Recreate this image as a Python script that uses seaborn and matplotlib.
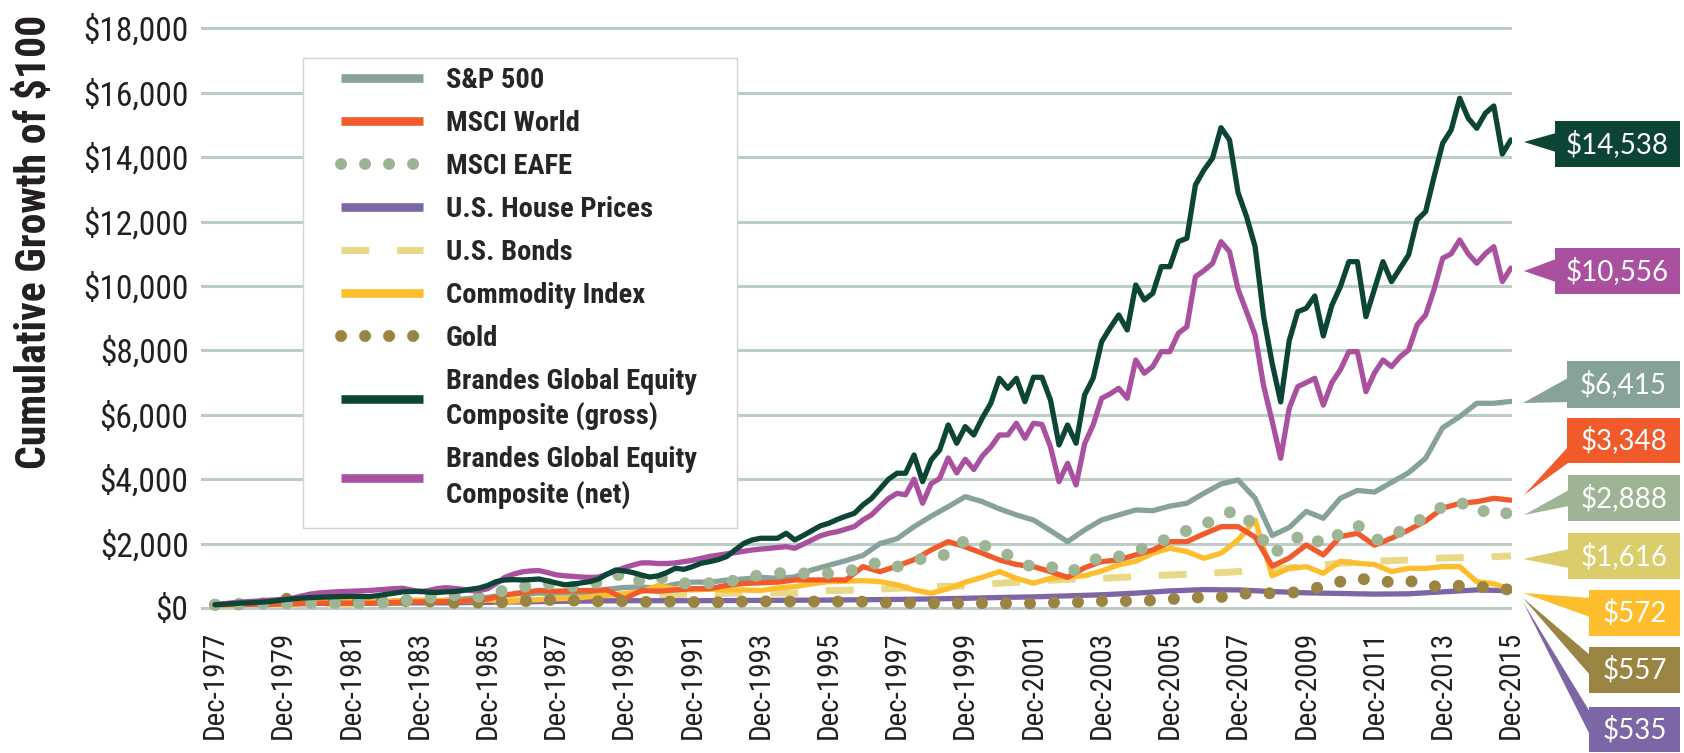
import numpy as np
import matplotlib
matplotlib.use("Agg")
import matplotlib.pyplot as plt
from matplotlib import font_manager as fm
from matplotlib.lines import Line2D
from matplotlib.patches import Rectangle, Polygon
import seaborn as sns

# values (growth of $100, start Dec-1977)
start = 1977 + 11 / 12

# quarterly: Dec-77, then Mar/Jun/Sep/Dec of each year
gross = [100,
         115, 130, 150, 160,  175, 190, 220, 250,  280, 300, 320, 330,
         340, 350, 355, 360,  360, 350, 380, 420,  460, 500, 510, 520,
         490, 480, 500, 510,  540, 580, 620, 700,  820, 870, 880, 870,
         880, 900, 840, 780,  720, 740, 780, 820,  900, 1050, 1180, 1150,
         1100, 1025, 960, 1000,  1100, 1233, 1200, 1283,  1388, 1438, 1500, 1594,
         1800, 2000, 2112, 2165,  2165, 2165, 2320, 2112,  2250, 2400, 2550, 2631,
         2750, 2850, 2941, 3200,  3400, 3700, 4000, 4184,  4184, 4752, 3923, 4597,
         4907, 5684, 5115, 5632,  5373, 5900, 6358, 7134,  6823, 7134, 6408, 7165,
         7165, 6460, 5063, 5684,  5115, 6616, 7134, 8271,  8700, 9100, 8635, 10032,
         9566, 9774, 10601, 10601,  11377, 11483, 13138, 13604,  13966, 14918, 14536, 12900,
         12154, 11222, 9048, 7600,  6400, 8300, 9203, 9308,  9690, 8448, 9400, 9980,
         10756, 10756, 9048, 9900,  10756, 10135, 10550, 10964,  12051, 12310, 13400, 14434,
         14847, 15831, 15210, 14899,  15365, 15592, 14101, 14538]

net = [100,
       130, 160, 180, 200,  215, 235, 250, 270,  300, 360, 420, 460,
       480, 500, 510, 520,  530, 540, 560, 580,  600, 612, 560, 500,
       540, 600, 630, 610,  580, 540, 540, 600,  760, 950, 1050, 1120,
       1150, 1160, 1100, 1030,  1000, 980, 960, 950,  960, 1050, 1150, 1250,
       1330, 1400, 1400, 1380,  1380, 1400, 1440, 1480,  1540, 1600, 1640, 1680,
       1720, 1760, 1800, 1830,  1850, 1880, 1905, 1853,  1980, 2110, 2240, 2320,
       2370, 2450, 2530, 2733,  2890, 3150, 3400, 3560,  3515, 4000, 3252, 3860,
       4024, 4660, 4194, 4620,  4300, 4720, 5000, 5373,  5373, 5737, 5271, 5737,
       5700, 5000, 3923, 4494,  3820, 5100, 5684, 6513,  6650, 6823, 6513, 7703,
       7290, 7500, 7961, 7961,  8532, 8737, 10290, 10477,  10700, 11377, 11067, 9900,
       9200, 8480, 6900, 5800,  4650, 6200, 6874, 7000,  7134, 6300, 7000, 7400,
       7961, 7961, 6718, 7300,  7703, 7495, 7800, 8013,  8790, 9100, 9900, 10862,
       11000, 11430, 11000, 10706,  11000, 11222, 10135, 10556]

# half-yearly: Dec-77, then Jun/Dec of each year
sp500 = [100,
         110, 107, 120, 127, 145, 167, 160, 159, 155, 193, 235, 236, 225, 251,
         300, 332, 410, 394, 470, 414, 470, 484, 580, 636, 650, 616, 740, 803,
         800, 865, 900, 952, 920, 964, 1180, 1326, 1470, 1631, 2000, 2150,
         2525, 2850, 3146, 3457, 3302, 3078, 2889, 2733, 2400, 2060, 2423, 2733,
         2889, 3044, 3022, 3163, 3252, 3563, 3850, 3976, 3407, 2250, 2500, 3000,
         2786, 3407, 3650, 3600, 3900, 4200, 4650, 5600, 5942, 6358, 6358, 6415]

msci_world = [100,
              110, 115, 120, 125, 135, 150, 150, 150, 145, 160, 180, 190, 190, 200,
              230, 280, 400, 480, 540, 520, 540, 540, 560, 280, 540, 520, 560, 600,
              600, 700, 760, 780, 800, 870, 870, 870, 870, 1283, 1128, 1300,
              1500, 1801, 2060, 1900, 1700, 1491, 1350, 1283, 1128, 950, 1250, 1440,
              1491, 1650, 1800, 2060, 2060, 2300, 2525, 2525, 2200, 1300, 1550, 1957,
              1646, 2215, 2320, 1950, 2165, 2423, 2700, 3100, 3250, 3300, 3407, 3348]

msci_eafe = [100,
             120, 134, 135, 142, 150, 150, 150, 150, 150, 160, 230, 270, 351, 404,
             332, 373, 559, 650, 714, 767, 662, 760, 817, 1128, 817, 972, 767, 767,
             770, 800, 922, 1025, 1077, 1100, 1050, 1077, 1128, 1250, 1438, 1283,
             1438, 1646, 1646, 2112, 1950, 1801, 1491, 1250, 1283, 1077, 1336, 1600,
             1594, 1801, 1905, 2215, 2400, 2578, 2889, 3044, 2525, 1650, 2060, 2320,
             1957, 2320, 2578, 2112, 2165, 2600, 2800, 3150, 3302, 2950, 3096, 2888]

commodity = [100,
             110, 125, 150, 170, 250, 300, 250, 220, 200, 210, 230, 240, 230, 220,
             220, 250, 200, 230, 260, 280, 300, 350, 400, 450, 500, 700, 580, 559,
             580, 560, 560, 540, 620, 662, 750, 817, 830, 850, 817, 720,
             560, 456, 600, 800, 950, 1128, 922, 767, 922, 972, 1000, 1150,
             1336, 1450, 1700, 1854, 1749, 1543, 1700, 2112, 2733, 1000, 1233, 1283,
             1077, 1450, 1388, 1350, 1128, 1233, 1230, 1283, 1283, 817, 750, 572]

gold = [100,
        105, 118, 145, 270, 340, 310, 230, 210, 165, 235, 220, 200, 200, 160,
        165, 170, 180, 205, 235, 255, 230, 215, 195, 210, 185, 200, 195, 185,
        180, 175, 200, 205, 200, 200, 200, 200, 200, 195, 175, 150,
        155, 150, 135, 150, 150, 140, 140, 145, 165, 180, 180, 215,
        205, 230, 230, 270, 320, 330, 340, 435, 456, 456, 456, 560,
        662, 817, 922, 850, 800, 850, 700, 650, 690, 650, 640, 557]

# yearly: Dec-77 ... Dec-15
house = [100, 115, 130, 140, 150, 155, 160, 165, 175, 190, 205, 215, 225, 225,
         225, 230, 235, 240, 245, 255, 265, 280, 300, 325, 345, 375, 410, 460,
         530, 570, 560, 510, 470, 450, 430, 440, 500, 560, 535]

bonds = [100, 103, 106, 110, 117, 155, 168, 193, 236, 272, 279, 300, 343, 373,
         433, 456, 466, 456, 540, 560, 612, 662, 680, 767, 830, 891, 922, 970,
         1025, 1070, 1128, 1202, 1290, 1388, 1450, 1491, 1553, 1570, 1616]

legend_names = ["S&P 500", "MSCI World", "MSCI EAFE", "U.S. House Prices",
                "U.S. Bonds", "Commodity Index", "Gold",
                "Brandes Global Equity\nComposite (gross)",
                "Brandes Global Equity\nComposite (net)"]
end_labels = ["$14,538", "$10,556", "$6,415", "$3,348", "$2,888",
              "$1,616", "$572", "$557", "$535"]

c_sp = "#86A29B"
c_world = "#F15A2B"
c_eafe = "#9DB594"
c_house = "#7D66A5"
c_bond = "#E7D988"
c_bond_box = "#DBCC6C"
c_comm = "#FDBD2D"
c_gold = "#9A8444"
c_gross = "#0C4536"
c_net = "#A9519F"

q_x = start + 0.25 * np.arange(len(gross))
h_x = start + 0.5 * np.arange(len(sp500))
a_x = start + np.arange(len(house))

# look for a condensed sans face, the reference uses a narrow type
fonts = fm.fontManager.ttflist
names = {f.name for f in fonts}
narrow_family, narrow_stretch = "Roboto", "normal"
for nm in ["Roboto Condensed", "Liberation Sans Narrow", "Noto Sans Condensed",
           "DejaVu Sans Condensed", "Open Sans Condensed"]:
    if nm in names:
        narrow_family = nm
        break
else:
    for nm in ["Noto Sans", "DejaVu Sans", "Open Sans", "Roboto"]:
        if any(f.name == nm and f.stretch in ("condensed", "semi-condensed")
               for f in fonts):
            narrow_family, narrow_stretch = nm, "condensed"
            break

W, H = 1684, 753
sns.set_theme(style="white")
plt.rcParams["font.family"] = [narrow_family, "DejaVu Sans"]
plt.rcParams["font.stretch"] = narrow_stretch
fig = plt.figure(figsize=(W / 100, H / 100), dpi=100)

# axes box in pixels: x 201..1512, y 22..614
ax = fig.add_axes([201 / W, 1 - 614.4 / H, (1512 - 201) / W, (614.4 - 22) / H])
ax.set_xlim(1977.506, 2015.95)
ax.set_ylim(-200, 18200)

dot = (0, (0.01, 2.0))
lw = 3.8


def draw(x, y, color, **kw):
    sns.lineplot(x=x, y=y, ax=ax, color=color, estimator=None, sort=False,
                 legend=False, **kw)


draw(h_x, sp500, c_sp, lw=lw)
draw(a_x, bonds, c_bond, lw=5, linestyle=(0, (4, 4)))
draw(a_x, house, c_house, lw=lw)
draw(h_x, commodity, c_comm, lw=lw)
draw(h_x, msci_world, c_world, lw=lw)
draw(h_x, gold, c_gold, lw=8.6, linestyle=dot, dash_capstyle="round")
draw(h_x, msci_eafe, c_eafe, lw=8.6, linestyle=dot, dash_capstyle="round")
draw(q_x, net, c_net, lw=lw)
draw(q_x, gross, c_gross, lw=lw)

ax.set_yticks(np.arange(0, 18001, 2000))
ax.set_yticklabels([f"${v:,.0f}" for v in np.arange(0, 18001, 2000)])
xt = start + np.arange(0, 39, 2)
ax.set_xticks(xt)
ax.set_xticklabels([f"Dec-{1977 + k}" for k in range(0, 39, 2)], rotation=90)
ax.tick_params(axis="y", length=0, pad=9, labelsize=24, colors="#231F20")
ax.tick_params(axis="x", length=0, pad=12, labelsize=21, colors="#231F20")
ax.set_xlabel("")
ax.set_ylabel("")
ax.yaxis.grid(True, color="#BCCDC6", lw=2.2)
ax.xaxis.grid(False)
ax.set_axisbelow(True)
sns.despine(ax=ax, left=True, bottom=True)

fig.text(35 / W, 1 - 242 / H, "Cumulative Growth of $100", rotation=90,
         ha="center", va="center", fontsize=30, fontweight="bold", color="#231F20")

# legend panel
fig.add_artist(Rectangle((303 / W, 1 - 528 / H), (737 - 303) / W, (528 - 58) / H,
                         transform=fig.transFigure, facecolor="white",
                         edgecolor="#D3D3D3", lw=1, zorder=2))
solid = dict(lw=6.2, solid_capstyle="butt")
handles = [Line2D([], [], color=c_sp, **solid),
           Line2D([], [], color=c_world, **solid),
           Line2D([], [], color=c_eafe, lw=8.6, linestyle=dot, dash_capstyle="round"),
           Line2D([], [], color=c_house, **solid),
           Line2D([], [], color=c_bond, lw=5, linestyle=(0, (4, 4))),
           Line2D([], [], color=c_comm, **solid),
           Line2D([], [], color=c_gold, lw=8.6, linestyle=dot, dash_capstyle="round"),
           Line2D([], [], color=c_gross, **solid),
           Line2D([], [], color=c_net, **solid)]
leg = fig.legend(handles, legend_names, loc="upper left",
                 bbox_to_anchor=(341 / W, 1 - 67 / H), frameon=False,
                 prop={"size": 20.5, "weight": "bold", "family": narrow_family,
                       "stretch": narrow_stretch},
                 handlelength=2.88, handletextpad=0.8, labelspacing=0.56,
                 borderpad=0, borderaxespad=0)
for t in leg.get_texts():
    t.set_linespacing(1.34)
leg.set_zorder(3)

# end-value call-outs (pixel layout)
box_colors = [c_gross, c_net, c_sp, c_world, c_eafe, c_bond_box, c_comm, c_gold, c_house]
boxes = [(1555, 121, 1680, 167, 1524, 142, 133, 152),
         (1555, 248, 1680, 294, 1524, 271, 259, 282),
         (1567, 361, 1680, 408, 1523, 403, 378, 402),
         (1567, 418, 1680, 463, 1524, 495, 447, 463),
         (1568, 475, 1680, 521, 1524, 515, 490, 506),
         (1568, 533, 1680, 579, 1523, 559, 549, 568),
         (1589, 590, 1680, 636, 1523, 593, 598, 617),
         (1589, 647, 1680, 693, 1523, 598, 655, 675),
         (1589, 707, 1680, 752, 1523, 602, 712, 735)]


def fpt(px, py):
    return (px / W, 1 - py / H)


for txt, col, (x0, y0, x1, y1, tx, ty, b0, b1) in zip(end_labels, box_colors, boxes):
    fig.add_artist(Polygon([fpt(tx, ty), fpt(x0 + 1, b0), fpt(x0 + 1, b1)],
                           closed=True, transform=fig.transFigure,
                           facecolor=col, edgecolor="none"))
    fig.add_artist(Rectangle(fpt(x0, y1), (x1 - x0) / W, (y1 - y0) / H,
                             transform=fig.transFigure, facecolor=col,
                             edgecolor="none"))
    fig.text((x0 + x1) / 2 / W, 1 - (y0 + y1) / 2 / H, txt, ha="center",
             va="center", color="white", fontsize=20, family="Lato",
             stretch="normal")

fig.savefig("out.png", dpi=100)
